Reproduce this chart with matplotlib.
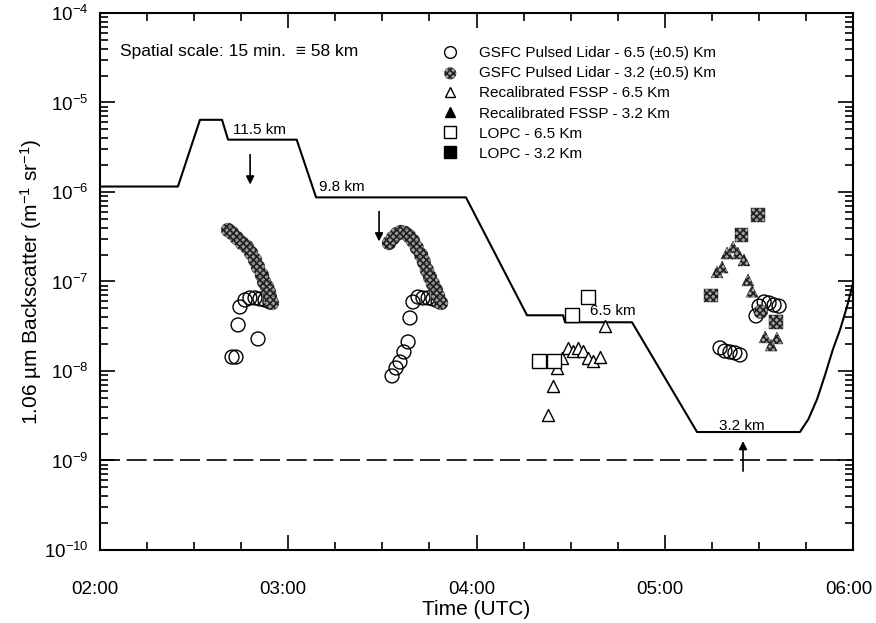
import numpy as np
import matplotlib
matplotlib.use('Agg')
import matplotlib.pyplot as plt
import matplotlib.transforms as mtransforms
from matplotlib.ticker import MultipleLocator, FuncFormatter, LogLocator, NullFormatter
from matplotlib.lines import Line2D

plt.rcParams['font.family'] = ['Liberation Sans', 'DejaVu Sans']
plt.rcParams['mathtext.fontset'] = 'custom'
plt.rcParams['mathtext.rm'] = 'Liberation Sans'
plt.rcParams['mathtext.it'] = 'Liberation Sans:italic'
plt.rcParams['hatch.linewidth'] = 1.2

# flight track backscatter threshold line (time in decimal hours UTC)
line_t = [2.0, 2.416, 2.533, 2.650, 2.682, 3.046, 3.149, 3.944, 4.268, 4.459, 4.470,
          4.825, 5.170, 5.716, 5.761, 5.807, 5.849, 5.891, 5.929, 5.966, 6.0]
line_v = [1.15e-6, 1.15e-6, 6.4e-6, 6.4e-6, 3.84e-6, 3.84e-6, 8.7e-7, 8.7e-7, 4.19e-8, 4.19e-8, 3.5e-8,
          3.5e-8, 2.08e-9, 2.08e-9, 2.9e-9, 4.85e-9, 9.0e-9, 1.75e-8, 2.9e-8, 5.27e-8, 1.0e-7]
noise_level = 1e-9

# GSFC Pulsed Lidar - 6.5 km
lidar65_t = [2.703, 2.724, 2.735, 2.841, 2.745, 2.772, 2.798, 2.825, 2.851, 2.878, 2.904,
             3.552, 3.573, 3.594, 3.615, 3.637, 3.647, 3.663, 3.690, 3.716, 3.743, 3.769, 3.796,
             5.292, 5.318, 5.345, 5.371, 5.398, 5.483, 5.499, 5.526, 5.552, 5.579, 5.605]
lidar65_v = [1.43e-8, 1.43e-8, 3.27e-8, 2.28e-8, 5.19e-8, 6.21e-8, 6.54e-8, 6.54e-8, 6.37e-8, 6.21e-8, 5.9e-8,
             8.8e-9, 1.08e-8, 1.26e-8, 1.63e-8, 2.11e-8, 3.91e-8, 5.9e-8, 6.7e-8, 6.54e-8, 6.54e-8, 6.37e-8, 6.05e-8,
             1.81e-8, 1.67e-8, 1.63e-8, 1.59e-8, 1.51e-8, 4.12e-8, 5.3e-8, 5.9e-8, 5.75e-8, 5.46e-8, 5.3e-8]

# GSFC Pulsed Lidar - 3.2 km
lidar32_t = [2.682, 2.703, 2.729, 2.756, 2.782, 2.804, 2.825, 2.841, 2.862, 2.873, 2.889, 2.899, 2.904, 2.915,
             3.536, 3.557, 3.578, 3.599, 3.621, 3.642, 3.663, 3.684, 3.706, 3.721, 3.737, 3.753, 3.769,
             3.785, 3.796, 3.812, 5.508]
lidar32_v = [3.76e-7, 3.48e-7, 3.06e-7, 2.69e-7, 2.43e-7, 2.08e-7, 1.74e-7, 1.45e-7, 1.18e-7, 9.9e-8, 8.7e-8,
             7.6e-8, 6.7e-8, 5.75e-8,
             2.69e-7, 3.06e-7, 3.40e-7, 3.57e-7, 3.48e-7, 3.22e-7, 2.84e-7, 2.37e-7, 1.98e-7, 1.65e-7, 1.34e-7,
             1.12e-7, 9.4e-8, 8.0e-8, 6.9e-8, 5.75e-8, 4.6e-8]

# Recalibrated FSSP
fssp65_t = [4.379, 4.406, 4.427, 4.453, 4.485, 4.512, 4.538, 4.565, 4.592, 4.618, 4.655, 4.682]
fssp65_v = [3.22e-9, 6.8e-9, 1.08e-8, 1.40e-8, 1.81e-8, 1.67e-8, 1.81e-8, 1.67e-8, 1.40e-8, 1.29e-8, 1.43e-8, 3.18e-8]
fssp32_t = [5.276, 5.303, 5.329, 5.361, 5.387, 5.419, 5.440, 5.462, 5.531, 5.563, 5.594]
fssp32_v = [1.28e-7, 1.45e-7, 2.08e-7, 2.43e-7, 2.08e-7, 1.74e-7, 1.04e-7, 7.8e-8, 2.40e-8, 1.95e-8, 2.34e-8]

# LOPC
lopc65_t = [4.332, 4.411, 4.507, 4.592]
lopc65_v = [1.29e-8, 1.29e-8, 4.23e-8, 6.7e-8]
lopc32_t = [5.244, 5.408, 5.493, 5.589]
lopc32_v = [6.9e-8, 3.31e-7, 5.53e-7, 3.52e-8]

fig = plt.figure(figsize=(8.76, 6.23), dpi=100)
ax = fig.add_axes([0.1136, 0.1172, 0.8607, 0.8620])

ax.plot(line_t, line_v, color='black', lw=1.5)
ax.axhline(noise_level, color='black', lw=1.2, dashes=(12, 4))

hatched = dict(facecolor='#a0a0a0', edgecolor='#202020', hatch='xxxxx', linewidths=0.3)
ax.scatter(lidar65_t, lidar65_v, s=100, marker='o', facecolor='none', edgecolor='black', linewidths=1.0, zorder=3)
ax.scatter(lidar32_t, lidar32_v, s=100, marker='o', zorder=3, **hatched)
ax.scatter(fssp65_t, fssp65_v, s=75, marker='^', facecolor='white', edgecolor='black', linewidths=1.0, zorder=3)
ax.scatter(fssp32_t, fssp32_v, s=75, marker='^', zorder=3, **hatched)
ax.scatter(lopc65_t, lopc65_v, s=90, marker='s', facecolor='white', edgecolor='black', linewidths=1.0, zorder=3)
ax.scatter(lopc32_t, lopc32_v, s=90, marker='s', zorder=3, **hatched)
h_l32 = ax.scatter([], [], s=70, marker='o', **hatched)

# altitude labels and arrows
ax.text(2.708, 4.97e-6, '11.5 km', fontsize=11, va='center')
ax.text(3.164, 1.15e-6, '9.8 km', fontsize=11, va='center')
ax.text(4.602, 4.65e-8, '6.5 km', fontsize=11, va='center')
ax.text(5.287, 2.43e-9, '3.2 km', fontsize=11, va='center')
arrow = dict(arrowstyle='-|>', color='black', lw=1.2, mutation_scale=12, shrinkA=0, shrinkB=0)
ax.annotate('', xy=(2.799, 1.21e-6), xytext=(2.799, 2.61e-6), arrowprops=arrow)
ax.annotate('', xy=(3.483, 2.8e-7), xytext=(3.483, 6.05e-7), arrowprops=arrow)
ax.annotate('', xy=(5.414, 1.65e-9), xytext=(5.414, 7.6e-10), arrowprops=arrow)

ax.text(0.027, 0.929, 'Spatial scale: 15 min.  \u2261 58 km', transform=ax.transAxes,
        fontsize=12.5, va='center')

# legend
handles = [
    Line2D([], [], ls='none', marker='o', ms=8.5, mfc='white', mec='black', mew=1.0),
    h_l32,
    Line2D([], [], ls='none', marker='^', ms=7.5, mfc='white', mec='black', mew=1.0),
    Line2D([], [], ls='none', marker='^', ms=7.5, mfc='black', mec='black'),
    Line2D([], [], ls='none', marker='s', ms=8.5, mfc='white', mec='black', mew=1.0),
    Line2D([], [], ls='none', marker='s', ms=8.5, mfc='black', mec='black'),
]
labels = ['GSFC Pulsed Lidar - 6.5 (\u00b10.5) Km', 'GSFC Pulsed Lidar - 3.2 (\u00b10.5) Km',
          'Recalibrated FSSP - 6.5 Km', 'Recalibrated FSSP - 3.2 Km',
          'LOPC - 6.5 Km', 'LOPC - 3.2 Km']
ax.legend(handles, labels, loc='upper left', bbox_to_anchor=(0.455, 0.938), frameon=False,
          fontsize=11, handlelength=1.0, handletextpad=1.4, labelspacing=0.40,
          borderpad=0, borderaxespad=0, scatterpoints=1)

ax.set_xlim(2, 6)
ax.set_yscale('log')
ax.set_ylim(1e-10, 1e-4)
ax.xaxis.set_major_locator(MultipleLocator(1))
ax.xaxis.set_minor_locator(MultipleLocator(0.25))
ax.xaxis.set_major_formatter(FuncFormatter(lambda v, pos: f'{int(round(v)):02d}:00'))
ax.xaxis.set_minor_formatter(NullFormatter())
ax.yaxis.set_major_locator(LogLocator(base=10, numticks=10))
ax.yaxis.set_minor_locator(LogLocator(base=10, subs=np.arange(2, 10), numticks=20))
ax.yaxis.set_minor_formatter(NullFormatter())

ax.tick_params(which='both', direction='in', top=True, right=True, width=1.2, labelsize=13.5)
ax.tick_params(which='major', length=11)
ax.tick_params(which='minor', length=6)
ax.tick_params(axis='x', pad=22)
ax.tick_params(axis='y', pad=8)
for sp in ax.spines.values():
    sp.set_linewidth(1.5)

# reference tick labels sit slightly left of their ticks
shift = mtransforms.ScaledTranslation(-5 / 100, 0, fig.dpi_scale_trans)
for lab in ax.get_xticklabels():
    lab.set_transform(lab.get_transform() + shift)

ax.set_xlabel('Time (UTC)', fontsize=15, labelpad=2)
ax.set_ylabel('1.06 \u00b5m Backscatter (m$^{-1}$ sr$^{-1}$)', fontsize=15, labelpad=0)

fig.savefig('out.png', dpi=100)
